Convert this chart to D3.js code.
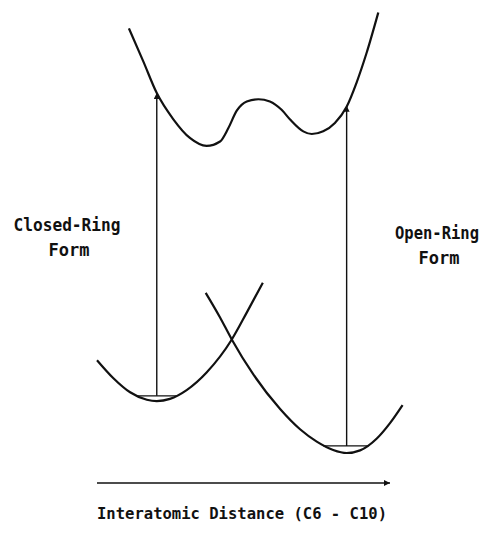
<!DOCTYPE html>
<html>
<head>
<meta charset="utf-8">
<script src="https://cdn.jsdelivr.net/npm/d3@7"></script>
<style>
  body { margin: 0; background: #fff; }
  text { font-family: "DejaVu Sans Mono", monospace; font-weight: bold; fill: #111; }
</style>
</head>
<body>
<svg id="chart" width="484" height="533"></svg>
<script>
// schematic potential energy curves, distance 0-100, energy 0-100 (arbitrary units)
var excited_dist = [10.9, 15.8, 20.4, 26.0, 31.7, 37.4, 42.0, 44.8, 47.7, 51.1, 55.1, 59.0, 63.0, 65.9, 70.4, 73.3, 77.2, 81.2, 85.2, 88.6, 92.0, 96.0];
var excited_energy = [96.5, 89.0, 81.8, 75.9, 71.6, 69.8, 70.8, 73.8, 77.8, 79.9, 80.4, 79.9, 78.0, 75.8, 73.1, 72.5, 73.1, 75.0, 78.7, 84.2, 90.9, 100.1];

var closed_dist = [0, 5.6, 11.3, 17.0, 20.4, 24.9, 30.6, 37.4, 46.0, 51.1, 56.6];
var closed_energy = [21.1, 17.0, 13.8, 12.1, 11.8, 12.3, 14.3, 18.3, 25.8, 31.9, 38.7];

var open_dist = [37.1, 42.0, 46.0, 53.3, 62.5, 69.3, 75.0, 80.6, 85.2, 89.8, 95.5, 100, 104.3];
var open_energy = [36.4, 30.8, 25.8, 17.9, 10.0, 5.4, 2.6, 0.7, 0, 0.6, 3.3, 6.8, 10.9];

// zero-point levels [x1, x2, energy]
var closed_level = [13.5, 27.2, 13.0];
var open_level = [77.2, 92.6, 1.6];

// vertical excitations [x, from energy, to energy]
var excitations = [[20.4, 13.0, 81.8], [85.2, 1.6, 78.9]];

var form_labels = [["Closed-Ring", "Form"], ["Open-Ring", "Form"]];
var axis_label = "Interatomic Distance (C6 - C10)";

var svg = d3.select("#chart");

var x = d3.scaleLinear().domain([0, 100]).range([97, 390]);
var y = d3.scaleLinear().domain([0, 100]).range([453, 13]);

var line = d3.line()
  .x(d => x(d[0]))
  .y(d => y(d[1]))
  .curve(d3.curveMonotoneX);

var curves = [
  d3.zip(excited_dist, excited_energy),
  d3.zip(closed_dist, closed_energy),
  d3.zip(open_dist, open_energy)
];

svg.append("defs").append("marker")
  .attr("id", "head")
  .attr("viewBox", "0 0 10 10")
  .attr("refX", 10)
  .attr("refY", 5)
  .attr("markerWidth", 7)
  .attr("markerHeight", 6)
  .attr("markerUnits", "userSpaceOnUse")
  .attr("orient", "auto")
  .append("path")
  .attr("d", "M0,0 L10,5 L0,10 Z")
  .attr("fill", "#111");

svg.selectAll(".pes")
  .data(curves)
  .enter()
  .append("path")
  .attr("class", "pes")
  .attr("d", line)
  .attr("fill", "none")
  .attr("stroke", "#111")
  .attr("stroke-width", 2.2);

svg.selectAll(".level")
  .data([closed_level, open_level])
  .enter()
  .append("line")
  .attr("class", "level")
  .attr("x1", d => x(d[0]))
  .attr("x2", d => x(d[1]))
  .attr("y1", d => y(d[2]))
  .attr("y2", d => y(d[2]))
  .attr("stroke", "#111")
  .attr("stroke-width", 1.3);

svg.selectAll(".exc")
  .data(excitations)
  .enter()
  .append("line")
  .attr("class", "exc")
  .attr("x1", d => x(d[0]))
  .attr("x2", d => x(d[0]))
  .attr("y1", d => y(d[1]))
  .attr("y2", d => y(d[2]))
  .attr("stroke", "#111")
  .attr("stroke-width", 1.4)
  .attr("marker-end", "url(#head)");

// distance axis
svg.append("line")
  .attr("x1", x.range()[0])
  .attr("x2", x.range()[1])
  .attr("y1", 483)
  .attr("y2", 483)
  .attr("stroke", "#111")
  .attr("stroke-width", 1.5)
  .attr("marker-end", "url(#head)");

svg.append("text")
  .attr("x", 97)
  .attr("y", 519)
  .attr("textLength", 290)
  .attr("lengthAdjust", "spacingAndGlyphs")
  .style("font-size", "16px")
  .text(axis_label);

var label_pos = [[67, 231, 107], [437, 239, 84]];

form_labels.forEach(function(lab, i) {
  var p = label_pos[i];
  var t = svg.append("text")
    .attr("text-anchor", "middle")
    .style("font-size", "17px");
  t.append("tspan")
    .attr("x", p[0])
    .attr("y", p[1])
    .attr("textLength", p[2])
    .attr("lengthAdjust", "spacingAndGlyphs")
    .text(lab[0]);
  t.append("tspan")
    .attr("x", p[0] + 2)
    .attr("y", p[1] + 25)
    .text(lab[1]);
});
</script>
</body>
</html>
